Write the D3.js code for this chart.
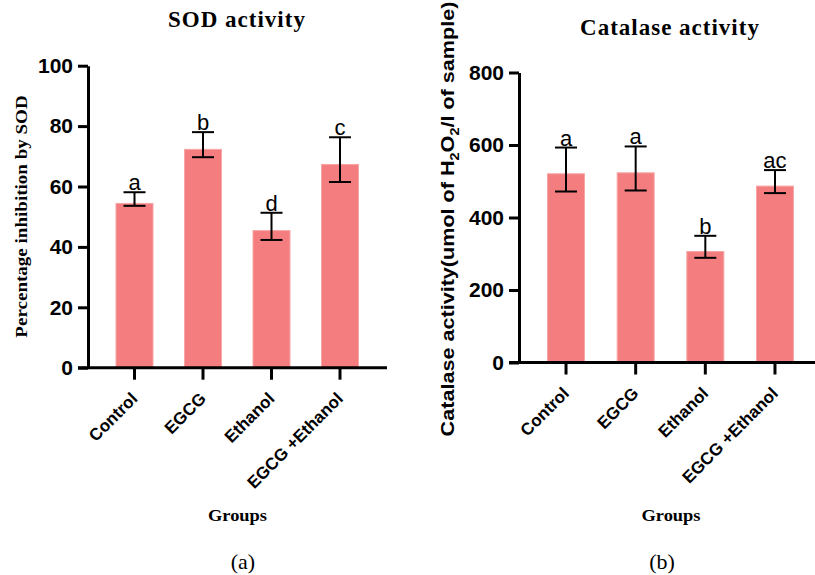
<!DOCTYPE html>
<html>
<head>
<meta charset="utf-8">
<script src="https://cdn.jsdelivr.net/npm/d3@7"></script>
<style>
  body { margin: 0; background: #fff; }
  svg { display: block; }
</style>
</head>
<body>
<svg id="chart" width="815" height="575"></svg>
<script>
// 데이터
const groups = ["Control", "EGCG", "Ethanol", "EGCG +Ethanol"];

const sodMean = [54.4, 72.3, 45.4, 67.3];
const sodUpper = [58.1, 78.0, 51.3, 76.3];
const sodLower = [53.6, 69.7, 42.3, 61.5];
const sodLetters = ["a", "b", "d", "c"];
const sodTicks = [0, 20, 40, 60, 80, 100];

const catMean = [520.6, 523.3, 306.2, 486.6];
const catUpper = [593, 596, 349.5, 530.8];
const catLower = [471.7, 474.5, 288.8, 467.3];
const catLetters = ["a", "a", "b", "ac"];
const catTicks = [0, 200, 400, 600, 800];

const svg = d3.select("#chart");
const sans = "'Liberation Sans', Arial, sans-serif";
const serif = "'Liberation Serif', 'Times New Roman', serif";
const barColor = "#f47e7f";

// 패널 그리기 함수
function drawPanel(p) {
    const g = svg.append("g");

    const x = d3.scaleBand()
        .domain(groups)
        .range(p.xRange)
        .paddingInner(p.pad)
        .paddingOuter(p.pad / 2);
    const y = d3.scaleLinear()
        .domain([0, d3.max(p.ticks)])
        .range(p.yRange);

    const data = groups.map((name, i) => ({
        name, mean: p.mean[i], hi: p.upper[i], lo: p.lower[i], letter: p.letters[i]
    }));

    // 막대
    g.selectAll(".bar")
        .data(data)
        .enter()
        .append("rect")
        .attr("class", "bar")
        .attr("x", d => x(d.name))
        .attr("y", d => y(d.mean))
        .attr("width", x.bandwidth())
        .attr("height", d => y(0) - y(d.mean))
        .attr("fill", barColor)
        .attr("stroke", "#f7a5a5")
        .attr("stroke-width", 1);

    // 오차 막대
    const cap = 11;
    const eb = g.selectAll(".err")
        .data(data)
        .enter()
        .append("g")
        .attr("class", "err")
        .attr("transform", d => `translate(${x(d.name) + x.bandwidth() / 2},0)`)
        .attr("stroke", "#000")
        .attr("stroke-width", 2);
    eb.append("line").attr("y1", d => y(d.hi)).attr("y2", d => y(d.lo));
    eb.append("line").attr("x1", -cap).attr("x2", cap).attr("y1", d => y(d.hi)).attr("y2", d => y(d.hi));
    eb.append("line").attr("x1", -cap).attr("x2", cap).attr("y1", d => y(d.lo)).attr("y2", d => y(d.lo));

    // 유의성 문자
    g.selectAll(".letter")
        .data(data)
        .enter()
        .append("text")
        .attr("class", "letter")
        .attr("x", d => x(d.name) + x.bandwidth() / 2)
        .attr("y", d => y(d.hi) - 2)
        .attr("text-anchor", "middle")
        .style("font-family", sans)
        .style("font-size", "22px")
        .text(d => d.letter);

    // Y축
    const yAxis = g.append("g")
        .attr("transform", `translate(${p.axisX},0)`)
        .call(d3.axisLeft(y).tickValues(p.ticks).tickSize(10).tickSizeOuter(0).tickPadding(5));
    yAxis.selectAll("path, line").attr("stroke", "#000").attr("stroke-width", 3);
    yAxis.selectAll("text")
        .style("font-family", sans)
        .style("font-size", "21px")
        .style("font-weight", "bold")
        .attr("fill", "#000");

    // X축
    const xAxis = g.append("g")
        .attr("transform", `translate(0,${y(0)})`)
        .call(d3.axisBottom(x).tickSize(12).tickSizeOuter(0).tickPadding(0));
    xAxis.select(".domain").remove();
    xAxis.append("line")
        .attr("x1", p.axisX - 10)
        .attr("x2", p.xEnd)
        .attr("stroke", "#000")
        .attr("stroke-width", 3);
    xAxis.selectAll(".tick line").attr("stroke", "#000").attr("stroke-width", 3);
    xAxis.selectAll(".tick text")
        .attr("text-anchor", "end")
        .attr("dy", null)
        .attr("y", 0)
        .attr("transform", "translate(4,32) rotate(-45)")
        .style("font-family", sans)
        .style("font-size", "17px")
        .style("font-weight", "bold")
        .attr("fill", "#000");

    // 제목
    svg.append("text")
        .attr("x", p.titleX)
        .attr("y", p.titleY)
        .attr("text-anchor", "middle")
        .style("font-family", serif)
        .style("font-size", "23px")
        .style("font-weight", "bold")
        .style("letter-spacing", "1px")
        .text(p.title);

    // X축 제목
    svg.append("text")
        .attr("transform", `translate(${p.groupsX},${p.groupsY}) scale(1.15,1)`)
        .attr("text-anchor", "middle")
        .style("font-family", serif)
        .style("font-size", "16px")
        .style("font-weight", "bold")
        .text("Groups");

    // 패널 라벨
    svg.append("text")
        .attr("x", p.panelX)
        .attr("y", 569)
        .attr("text-anchor", "middle")
        .style("font-family", serif)
        .style("font-size", "22px")
        .text(p.panel);

    return g;
}

drawPanel({
    mean: sodMean, upper: sodUpper, lower: sodLower, letters: sodLetters, ticks: sodTicks,
    xRange: [100.25, 374.25], pad: 0.46, yRange: [367.7, 65.7], axisX: 88, xEnd: 387,
    title: "SOD activity", titleX: 237, titleY: 27,
    groupsX: 237.5, groupsY: 520.5, panelX: 243, panel: "(a)"
});

drawPanel({
    mean: catMean, upper: catUpper, lower: catLower, letters: catLetters, ticks: catTicks,
    xRange: [531.2, 809.8], pad: 0.469, yRange: [362.5, 72.5], axisX: 519, xEnd: 815,
    title: "Catalase activity", titleX: 670, titleY: 35,
    groupsX: 671, groupsY: 520.5, panelX: 662, panel: "(b)"
});

// Y축 제목 (왼쪽)
svg.append("text")
    .attr("transform", "translate(27,216.5) rotate(-90) scale(1.19,1)")
    .attr("text-anchor", "middle")
    .style("font-family", serif)
    .style("font-size", "16px")
    .style("font-weight", "bold")
    .text("Percentage inhibition by SOD");

// Y축 제목 (오른쪽)
const catLabel = svg.append("text")
    .attr("transform", "translate(454,219) rotate(-90) scale(1.2,1)")
    .attr("text-anchor", "middle")
    .style("font-family", sans)
    .style("font-size", "18px")
    .style("font-weight", "bold");
catLabel.append("tspan").text("Catalase activity(umol of H");
catLabel.append("tspan").text("2").attr("dy", 5).style("font-size", "12px");
catLabel.append("tspan").text("O").attr("dy", -5);
catLabel.append("tspan").text("2").attr("dy", 5).style("font-size", "12px");
catLabel.append("tspan").text("/l of sample)").attr("dy", -5);
</script>
</body>
</html>
